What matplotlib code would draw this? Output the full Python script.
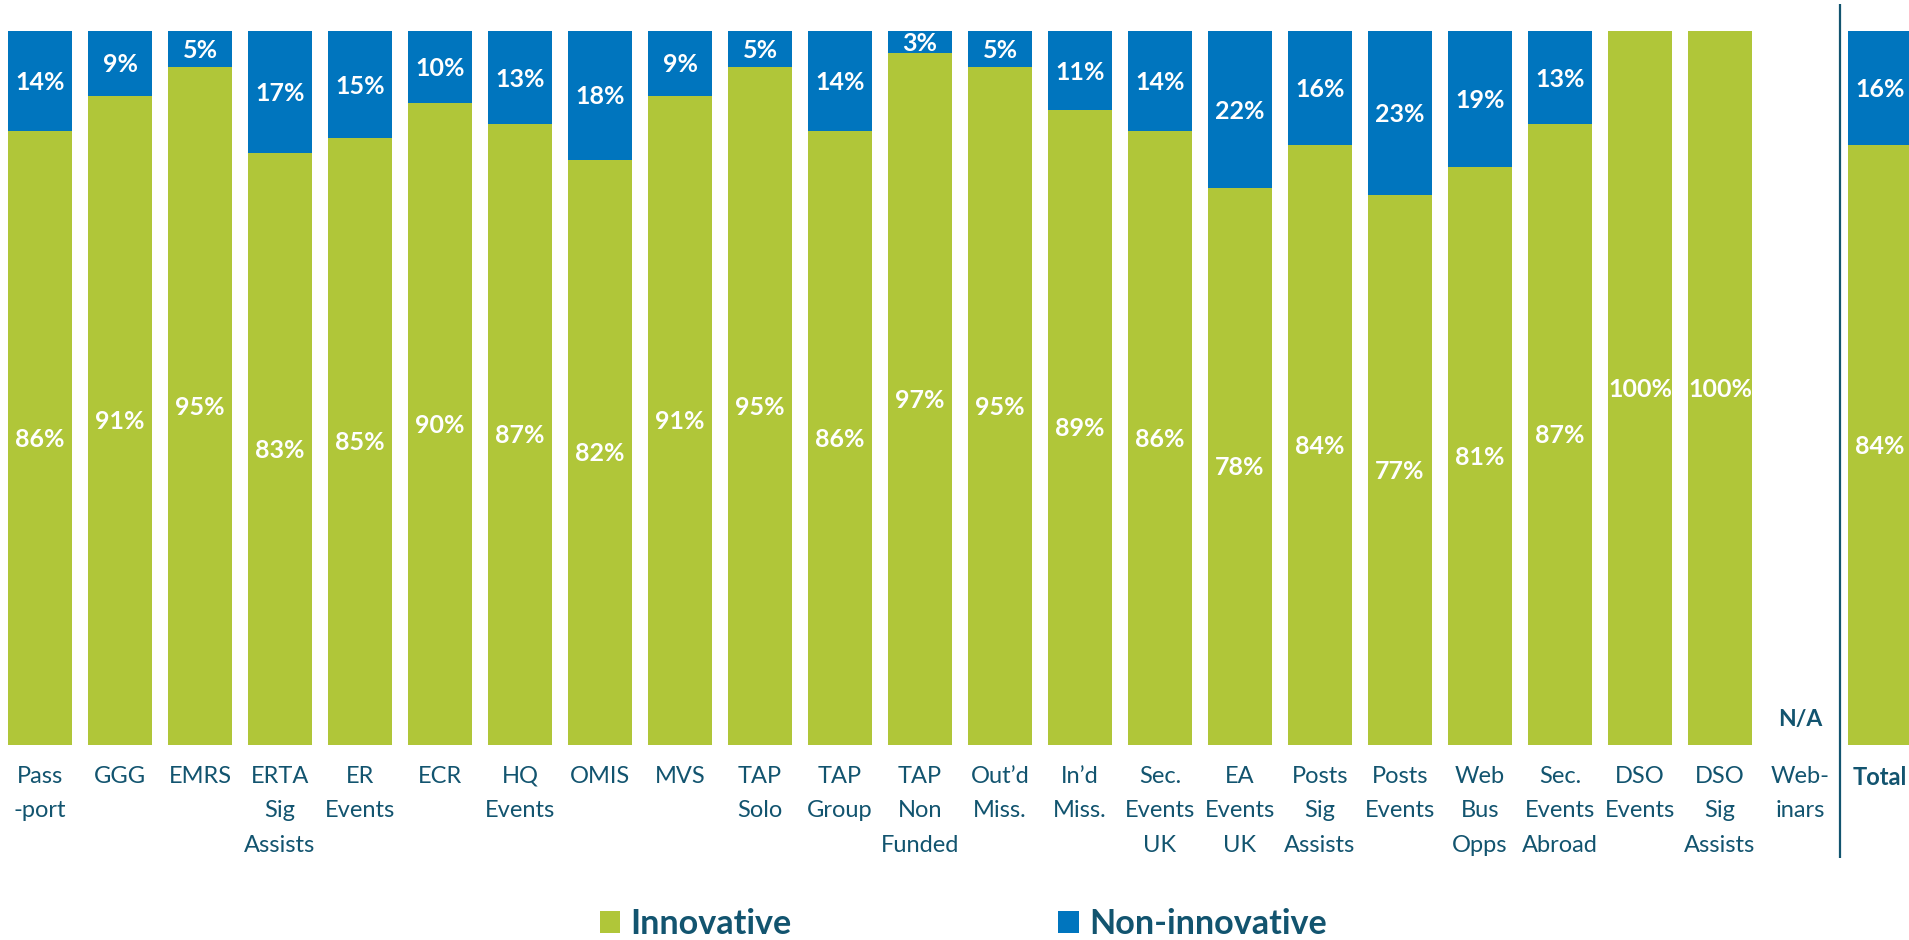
import numpy as np
import matplotlib
matplotlib.use("Agg")
import matplotlib.pyplot as plt
from matplotlib.patches import Patch

# Share of respondents per service, in percent
categories = [
    "Pass\n-port", "GGG", "EMRS", "ERTA\nSig\nAssists", "ER\nEvents", "ECR",
    "HQ\nEvents", "OMIS", "MVS", "TAP\nSolo", "TAP\nGroup", "TAP\nNon\nFunded",
    "Out’d\nMiss.", "In’d\nMiss.", "Sec.\nEvents\nUK", "EA\nEvents\nUK",
    "Posts\nSig\nAssists", "Posts\nEvents", "Web\nBus\nOpps",
    "Sec.\nEvents\nAbroad", "DSO\nEvents", "DSO\nSig\nAssists", "Web-\ninars",
    "Total",
]
innovative = [86, 91, 95, 83, 85, 90, 87, 82, 91, 95, 86, 97, 95, 89, 86, 78,
              84, 77, 81, 87, 100, 100, np.nan, 84]
non_innovative = [14, 9, 5, 17, 15, 10, 13, 18, 9, 5, 14, 3, 5, 11, 14, 22,
                  16, 23, 19, 13, 0, 0, np.nan, 16]
series_names = ["Innovative", "Non-innovative"]
missing_label = "N/A"

GREEN = "#B0C639"
BLUE = "#0075BE"
INK = "#12546F"

plt.rcParams["font.family"] = ["Lato", "DejaVu Sans"]

fig = plt.figure(figsize=(19.09, 9.40), dpi=100)
ax = fig.add_axes([0, 0.2078, 1, 0.7589])

inn = np.asarray(innovative, dtype=float)
non = np.asarray(non_innovative, dtype=float)
x = np.arange(len(categories))
has = ~np.isnan(inn)

ax.bar(x[has], inn[has], width=0.8, color=GREEN, linewidth=0)
ax.bar(x[has], non[has], bottom=inn[has], width=0.8, color=BLUE, linewidth=0)

# value labels, centred on each segment (baseline shifted by half the cap height)
cap_half = 1.26
for xi, g, b in zip(x, inn, non):
    if np.isnan(g):
        ax.text(xi, 2.62, missing_label, ha="center", va="baseline",
                color=INK, fontsize=16.5, fontweight="bold")
        continue
    if g > 0:
        ax.text(xi, g / 2 - cap_half, f"{g:.0f}%", ha="center", va="baseline",
                color="white", fontsize=18, fontweight="bold")
    if b > 0:
        ax.text(xi, g + b / 2 - cap_half, f"{b:.0f}%", ha="center",
                va="baseline", color="white", fontsize=18, fontweight="bold")

ax.set_xlim(-0.5, 23.3625)
ax.set_ylim(0, 100)
ax.set_yticks([])
ax.set_xticks(x, categories)
ax.tick_params(axis="x", length=0, pad=15, labelsize=17, labelcolor=INK)
for lbl in ax.get_xticklabels():
    lbl.set_linespacing(1.82)
ax.get_xticklabels()[-1].set_fontweight("bold")
for s in ax.spines.values():
    s.set_visible(False)

# separator before the overall total
ax.plot([22.5, 22.5], [-15.9, 103.8], color=INK, linewidth=1.6,
        clip_on=False, solid_capstyle="butt")

handles = [Patch(facecolor=GREEN), Patch(facecolor=BLUE)]
leg = fig.legend(handles, series_names, loc="center",
                 bbox_to_anchor=(963 / 1909, 16 / 940), ncol=2,
                 frameon=False, prop={"weight": "bold", "size": 24.6},
                 handlelength=0.6, handleheight=0.6, handletextpad=0.3,
                 columnspacing=7.8, borderpad=0, borderaxespad=0)
for t in leg.get_texts():
    t.set_color(INK)

fig.savefig("out.png", dpi=100)
